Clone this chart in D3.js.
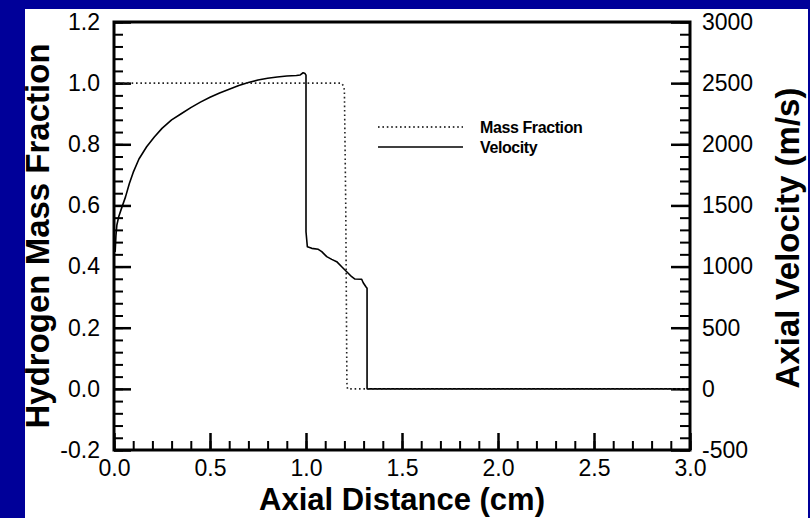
<!DOCTYPE html>
<html>
<head>
<meta charset="utf-8">
<script src="https://cdn.jsdelivr.net/npm/d3@7/dist/d3.min.js"></script>
<style>
  html, body { margin: 0; padding: 0; background: #000099; }
  svg { display: block; }
  text { font-family: "Liberation Sans", Arial, sans-serif; fill: #000; }
</style>
</head>
<body>
<script>
// Axial profiles behind a shock: hydrogen mass fraction (left axis) and axial velocity (right axis)
const velDistance = [0.006, 0.01, 0.015, 0.025, 0.04, 0.06, 0.08, 0.1, 0.13, 0.17, 0.21, 0.25, 0.3, 0.35, 0.4, 0.45, 0.5, 0.55, 0.6, 0.65,
                     0.7, 0.75, 0.8, 0.85, 0.9, 0.95, 0.97, 0.985, 0.995, 1.0,
                     1.0, 1.007, 1.03, 1.064, 1.082, 1.108, 1.134, 1.16, 1.186, 1.212, 1.238, 1.255, 1.29, 1.298, 1.312, 1.318, 1.318, 3.0];
const velocity    = [1120, 1250, 1340, 1410, 1480, 1570, 1680, 1770, 1880, 1980, 2060, 2130, 2200, 2250, 2300, 2345, 2385, 2420, 2450, 2480,
                     2505, 2525, 2540, 2550, 2558, 2563, 2567, 2585, 2578, 2565,
                     1285, 1162, 1149, 1141, 1122, 1081, 1059, 1040, 999, 958, 917, 898, 896, 868, 835, 822, 0, 0];

const massDistance = [0.0, 1.185, 1.197, 1.2, 1.207, 1.213, 1.216, 3.0];
const massFraction = [1.0, 1.0, 0.99, 0.975, 0.6, 0.02, 0.0, 0.0];

const xTicks = [0, 0.5, 1.0, 1.5, 2.0, 2.5, 3.0];
const yLeftTicks = [-0.2, 0, 0.2, 0.4, 0.6, 0.8, 1.0, 1.2];
const yRightTicks = [-500, 0, 500, 1000, 1500, 2000, 2500, 3000];

const W = 810, H = 518;
const plot = { left: 114, right: 690, top: 22, bottom: 450 };

const svg = d3.select("body").append("svg").attr("width", W).attr("height", H);

// slide background and white panel
svg.append("rect").attr("width", W).attr("height", H).attr("fill", "#000099");
svg.append("rect").attr("x", 25).attr("y", 9).attr("width", 783).attr("height", H - 9).attr("fill", "#fff");

const x = d3.scaleLinear().domain(d3.extent(xTicks)).range([plot.left, plot.right]);
const yL = d3.scaleLinear().domain(d3.extent(yLeftTicks)).range([plot.bottom, plot.top]);
const yR = d3.scaleLinear().domain(d3.extent(yRightTicks)).range([plot.bottom, plot.top]);

const minorRange = (lo, hi, step) => d3.range(Math.round((hi - lo) / step) + 1).map(i => lo + i * step);
const xMinor = minorRange(0, 3, 0.1);
const yLMinor = minorRange(-0.2, 1.2, 0.04);
const yRMinor = minorRange(-500, 3000, 100);

const MAJ = 17, MIN = 9;

function styleAxis(g, width) {
  g.select(".domain").remove();
  g.selectAll(".tick line").attr("stroke", "#000").attr("stroke-width", width);
  g.selectAll(".tick text").attr("font-size", 23).attr("fill", "#000");
}

// minor ticks
svg.append("g").attr("transform", `translate(${plot.left},0)`)
  .call(d3.axisLeft(yL).tickValues(yLMinor).tickSizeInner(-MIN).tickSizeOuter(0).tickFormat(""))
  .call(g => styleAxis(g, 2));
svg.append("g").attr("transform", `translate(${plot.right},0)`)
  .call(d3.axisRight(yR).tickValues(yRMinor).tickSizeInner(-MIN - 1).tickSizeOuter(0).tickFormat(""))
  .call(g => styleAxis(g, 2));
svg.append("g").attr("transform", `translate(0,${plot.bottom})`)
  .call(d3.axisBottom(x).tickValues(xMinor).tickSizeInner(-MIN).tickSizeOuter(0).tickFormat(""))
  .call(g => styleAxis(g, 2));

// major ticks with labels
svg.append("g").attr("transform", `translate(${plot.left},0)`)
  .call(d3.axisLeft(yL).tickValues(yLeftTicks).tickSizeInner(-MAJ).tickSizeOuter(0).tickPadding(14).tickFormat(d => d.toFixed(1)))
  .call(g => styleAxis(g, 2.5));
svg.append("g").attr("transform", `translate(${plot.right},0)`)
  .call(d3.axisRight(yR).tickValues(yRightTicks).tickSizeInner(-MAJ - 2).tickSizeOuter(0).tickPadding(12).tickFormat(d => String(d)))
  .call(g => styleAxis(g, 2.5));
svg.append("g").attr("transform", `translate(0,${plot.bottom})`)
  .call(d3.axisBottom(x).tickValues(xTicks).tickSizeInner(-MAJ).tickSizeOuter(0).tickPadding(10).tickFormat(d => d.toFixed(1)))
  .call(g => styleAxis(g, 2.5));

// data curves
const velLine = d3.line().x((d, i) => x(velDistance[i])).y(d => yR(d));
svg.append("path").datum(velocity).attr("d", velLine)
  .attr("fill", "none").attr("stroke", "#000").attr("stroke-width", 1.6).attr("stroke-linejoin", "round");

const massLine = d3.line().x((d, i) => x(massDistance[i])).y(d => yL(d));
svg.append("path").datum(massFraction).attr("d", massLine)
  .attr("fill", "none").attr("stroke", "#222").attr("stroke-width", 1.6).attr("stroke-dasharray", "1.6,2.8");

// frame
svg.append("rect").attr("x", plot.left).attr("y", plot.top)
  .attr("width", plot.right - plot.left).attr("height", plot.bottom - plot.top)
  .attr("fill", "none").attr("stroke", "#000").attr("stroke-width", 3);

// legend
const legend = [
  { label: "Mass Fraction", dash: "1.6,2.8", y: 127 },
  { label: "Velocity", dash: null, y: 147 }
];
legend.forEach(d => {
  svg.append("line").attr("x1", 378).attr("x2", 463).attr("y1", d.y).attr("y2", d.y)
    .attr("stroke", "#000").attr("stroke-width", 1.6).attr("stroke-dasharray", d.dash);
  svg.append("text").attr("x", 480).attr("y", d.y + 6).attr("font-size", 16).attr("font-weight", "bold")
    .attr("letter-spacing", -0.4).text(d.label);
});

// axis titles
svg.append("text").attr("transform", `translate(49,${(plot.top + plot.bottom) / 2}) rotate(-90)`)
  .attr("text-anchor", "middle").attr("font-size", 33).attr("font-weight", "bold").text("Hydrogen Mass Fraction");
svg.append("text").attr("transform", `translate(799,${(plot.top + plot.bottom) / 2 + 2}) rotate(-90)`)
  .attr("text-anchor", "middle").attr("font-size", 33).attr("font-weight", "bold").text("Axial Velocity (m/s)");
svg.append("text").attr("x", (plot.left + plot.right) / 2).attr("y", 510)
  .attr("text-anchor", "middle").attr("font-size", 31).attr("font-weight", "bold").text("Axial Distance (cm)");
</script>
</body>
</html>
